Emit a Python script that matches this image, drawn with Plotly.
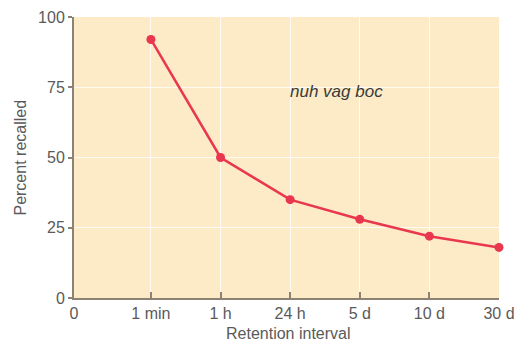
import plotly.graph_objects as go

tick_labels = ["0", "1 min", "1 h", "24 h", "5 d", "10 d", "30 d"]
tick_pos = [0, 1.105, 2.105, 3.105, 4.105, 5.105, 6.105]
intervals = ["1 min", "1 h", "24 h", "5 d", "10 d", "30 d"]
percent_recalled = [92, 50, 35, 28, 22, 18]
y_ticks = [0, 25, 50, 75, 100]

xmap = dict(zip(tick_labels, tick_pos))
xs = [xmap[c] for c in intervals]

FONT = "Liberation Sans, Arial, Helvetica"
TXT = "#5a5a5a"

fig = go.Figure()
fig.add_trace(go.Scatter(
    x=xs, y=percent_recalled, mode="lines+markers",
    line=dict(color="#E8374E", width=2.5),
    marker=dict(color="#E8374E", size=9),
    cliponaxis=False, showlegend=False, hoverinfo="skip",
))

fig.add_annotation(x=3.77, y=73.5, text="<i>nuh vag boc</i>", showarrow=False,
                   font=dict(family=FONT, size=17, color="#3a3a3a"))
fig.add_annotation(xref="paper", yref="paper", x=0.504, y=-0.128, yanchor="middle",
                   text="Retention interval", showarrow=False,
                   font=dict(family=FONT, size=16, color=TXT))
fig.add_annotation(xref="paper", yref="paper", x=-0.127, y=0.5, xanchor="center",
                   yanchor="middle", textangle=-90,
                   text="Percent recalled", showarrow=False,
                   font=dict(family=FONT, size=16, color=TXT))

fig.update_layout(
    width=514, height=342,
    margin=dict(l=74, r=15, t=17, b=44, autoexpand=False),
    paper_bgcolor="white",
    plot_bgcolor="#FCEBC6",
    font=dict(family=FONT, size=16, color=TXT),
    xaxis=dict(
        range=[0, 6.105], tickvals=tick_pos, ticktext=tick_labels,
        showgrid=True, gridcolor="rgba(255,255,255,0.8)", gridwidth=1,
        showline=True, linecolor="#8C8274", linewidth=2,
        ticks="inside", ticklen=6, tickcolor="#8C8274", tickwidth=1.5,
        zeroline=False, automargin=False, ticklabeloverflow="allow",
    ),
    yaxis=dict(
        range=[0, 100], tickvals=y_ticks,
        showgrid=True, gridcolor="rgba(255,255,255,0.8)", gridwidth=1,
        showline=True, linecolor="#8C8274", linewidth=2,
        ticks="outside", ticklen=4, tickcolor="#8C8274", tickwidth=1.5,
        zeroline=False, automargin=False, ticklabeloverflow="allow",
    ),
)

fig.write_html("out.html",
               config={"displayModeBar": False},
               post_script="document.body.style.margin='0';document.body.style.overflow='hidden';")
